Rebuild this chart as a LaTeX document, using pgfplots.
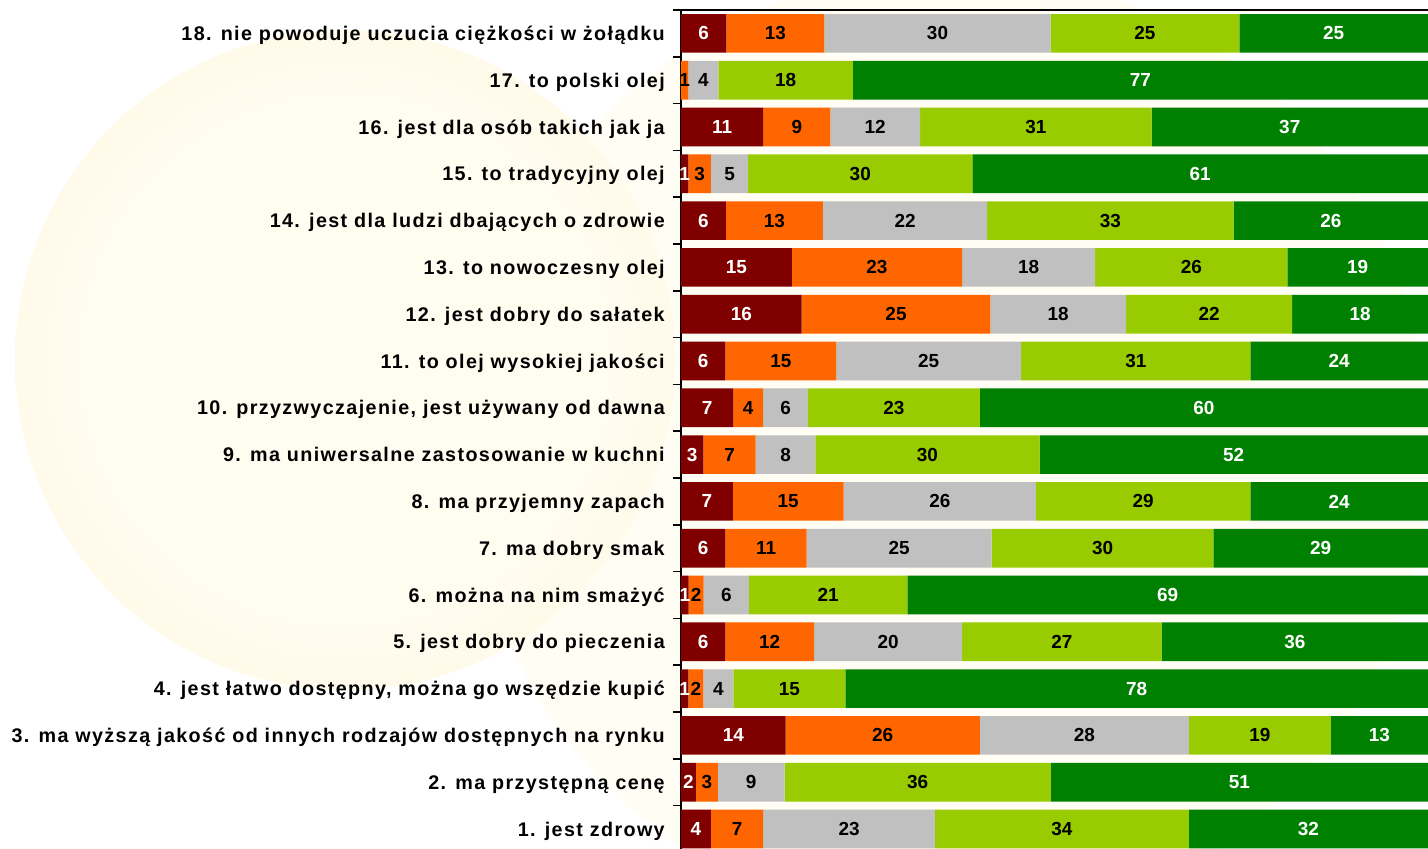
\documentclass[border=0pt]{standalone}
\usepackage{pgfplots}
\pgfplotsset{compat=1.18}
\usepackage{pgfplotstable}
\usepackage{fontspec}
\setmainfont{Liberation Sans}
\newfontfamily\catfont[LetterSpace=7]{Liberation Sans}
\definecolor{cR}{HTML}{800000}
\definecolor{cO}{HTML}{FF6600}
\definecolor{cG}{HTML}{C0C0C0}
\definecolor{cL}{HTML}{99CC00}
\definecolor{cD}{HTML}{008000}
\definecolor{glowA}{HTML}{FFFCF0}
\definecolor{glowB}{HTML}{FFF0C6}
\definecolor{glowC}{HTML}{FFF2CE}
\definecolor{glowD}{HTML}{FFFDF4}
\pgfdeclareradialshading{glow}{\pgfpoint{0bp}{0bp}}{color(0bp)=(glowA); color(20bp)=(glowA); color(50bp)=(glowB)}
\pgfdeclareradialshading{glowtwo}{\pgfpoint{0bp}{0bp}}{color(0bp)=(glowD); color(25bp)=(glowD); color(50bp)=(glowC)}

\pgfplotstableread{
y a b c d e
1 4 7 23 34 32
2 2 3 9 36 51
3 14 26 28 19 13
4 1 2 4 15 78
5 6 12 20 27 36
6 1 2 6 21 69
7 6 11 25 30 29
8 7 15 26 29 24
9 3 7 8 30 52
10 7 4 6 23 60
11 6 15 25 31 24
12 16 25 18 22 18
13 15 23 18 26 19
14 6 13 22 33 26
15 1 3 5 30 61
16 11 9 12 31 37
17 0 1 4 18 77
18 6 13 30 25 25
}\datatable

\def\S{(\thisrow{a}+\thisrow{b}+\thisrow{c}+\thisrow{d}+\thisrow{e})}

\pgfplotsset{
  common/.style={
    at={(510.75pt,-2.55pt)}, anchor=south west,
    scale only axis, width=560.25pt, height=631.8pt,
    xmin=0, xmax=100.01, ymin=0.5, ymax=18.5,
  },
  seglabel/.style 2 args={
    only marks, mark=none, draw=none, fill=none,
    point meta=explicit,
    visualization depends on={\thisrow{#1}\as\val},
    nodes near coords={\ifdim\val pt>0.5pt\relax\pgfmathprintnumber[assume math mode=true, fixed, precision=0]{\val}\fi},
    nodes near coords align={center},
    every node near coord/.append style={text=#2, anchor=center,
      font=\bfseries\fontsize{14.2pt}{16pt}\selectfont, inner sep=0pt},
  }
}

\begin{document}
\begin{tikzpicture}
\shade[shading=glowtwo] (712.5pt,299.25pt) circle (360pt);
\shade[shading=glow] (258.75pt,366.75pt) circle (247.5pt);
\begin{axis}[
  common,
  xbar stacked, bar width=29pt,
  axis x line*=top, axis y line*=left,
  axis line style={-, line width=1.5pt, black},
  xtick=\empty,
  ytick={1,...,18},
  yticklabels={
    {1. jest zdrowy},
    {2. ma przystępną cenę},
    {3. ma wyższą jakość od innych rodzajów dostępnych na rynku},
    {4. jest łatwo dostępny, można go wszędzie kupić},
    {5. jest dobry do pieczenia},
    {6. można na nim smażyć},
    {7. ma dobry smak},
    {8. ma przyjemny zapach},
    {9. ma uniwersalne zastosowanie w kuchni},
    {10. przyzwyczajenie,  jest używany od dawna},
    {11. to olej wysokiej jakości},
    {12. jest dobry do sałatek},
    {13. to nowoczesny olej},
    {14. jest dla ludzi dbających o zdrowie},
    {15. to tradycyjny olej\hspace{4pt}},
    {16. jest dla osób takich jak ja},
    {17. to polski olej},
    {18. nie powoduje uczucia ciężkości w żołądku}
  },
  major tick length=0pt,
  minor ytick={0.5,1.5,...,18.5},
  minor tick length=6pt,
  tick align=outside,
  tick style={line width=1.2pt, black},
  yticklabel style={font=\catfont\bfseries\fontsize{14.8pt}{16pt}\selectfont,
    anchor=base east, inner sep=0pt, xshift=-12pt, yshift=-5.3pt},
]
\addplot[fill=cR, draw=none] table[x expr={\thisrow{a}*100/\S}, y=y] {\datatable};
\addplot[fill=cO, draw=none] table[x expr={\thisrow{b}*100/\S}, y=y] {\datatable};
\addplot[fill=cG, draw=none] table[x expr={\thisrow{c}*100/\S}, y=y] {\datatable};
\addplot[fill=cL, draw=none] table[x expr={\thisrow{d}*100/\S}, y=y] {\datatable};
\addplot[fill=cD, draw=none] table[x expr={\thisrow{e}*100/\S}, y=y] {\datatable};
\end{axis}
\begin{axis}[common, hide axis, clip=false]
\addplot[seglabel={a}{white}] table[x expr={(\thisrow{a}/2)*100/\S}, y=y, meta=a] {\datatable};
\addplot[seglabel={b}{black}] table[x expr={(\thisrow{a}+\thisrow{b}/2)*100/\S}, y=y, meta=b] {\datatable};
\addplot[seglabel={c}{black}] table[x expr={(\thisrow{a}+\thisrow{b}+\thisrow{c}/2)*100/\S}, y=y, meta=c] {\datatable};
\addplot[seglabel={d}{black}] table[x expr={(\thisrow{a}+\thisrow{b}+\thisrow{c}+\thisrow{d}/2)*100/\S}, y=y, meta=d] {\datatable};
\addplot[seglabel={e}{white}] table[x expr={(\thisrow{a}+\thisrow{b}+\thisrow{c}+\thisrow{d}+\thisrow{e}/2)*100/\S}, y=y, meta=e] {\datatable};
\end{axis}
\pgfresetboundingbox
\path[use as bounding box] (0,0) rectangle (1071pt,636.75pt);
\end{tikzpicture}
\end{document}
